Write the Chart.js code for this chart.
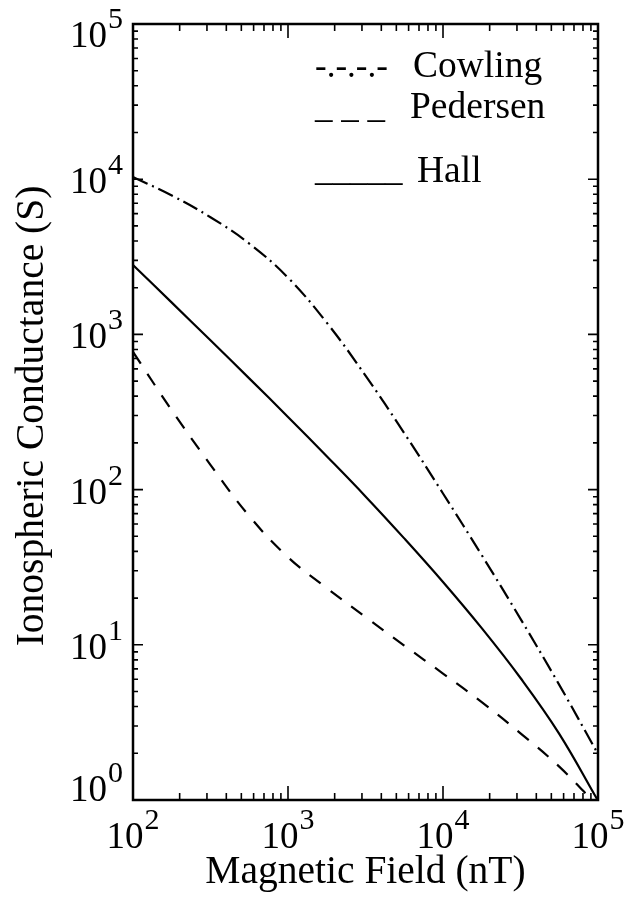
<!DOCTYPE html>
<html>
<head>
<meta charset="utf-8">
<script src="https://cdn.jsdelivr.net/npm/chart.js@4"></script>
<style>
  html, body { margin: 0; padding: 0; background: #fff; }
  canvas { display: block; }
</style>
</head>
<body>
<canvas id="chart" width="627" height="901"></canvas>
<script>
// magnetic field samples (nT) and conductances (S)
const fieldNT = [100, 178, 316, 562, 1000, 1778, 3162, 5623, 10000, 17783, 31623, 56234, 100000];
const cowling = [10330, 7850, 5690, 3850, 2320, 1190, 543, 231, 94.4, 37.8, 14.7, 5.52, 1.98];
const pedersen = [771, 324, 144.5, 67.6, 36.7, 23.2, 15.1, 9.89, 6.53, 4.27, 2.69, 1.64, 0.91];
const hall = [2800, 1603, 916, 521, 294, 164, 90.4, 48.5, 25.4, 12.8, 6.11, 2.67, 0.99];

const xMajor = [1e2, 1e3, 1e4, 1e5];
const xTickExp = ["2", "3", "4", "5"];
const yMajor = [1e0, 1e1, 1e2, 1e3, 1e4, 1e5];
const yTickExp = ["0", "1", "2", "3", "4", "5"];

const legendNames = ["Cowling", "Pedersen", "Hall"];
const legendMarks = ["-.-.-.-", "_ _ _", "_____"];

const SERIF = '"Liberation Serif", "DejaVu Serif", serif';

function minorTicks(majors) {
  const out = [];
  for (let i = 0; i < majors.length - 1; i++) {
    for (let m = 2; m <= 9; m++) out.push(majors[i] * m);
  }
  return out;
}

function pts(ys) {
  return fieldNT.map((b, i) => ({ x: b, y: ys[i] }));
}

function drawPower(ctx, exp, left, baseline) {
  ctx.font = "37px " + SERIF;
  ctx.fillText("10", left, baseline);
  const wb = ctx.measureText("10").width;
  ctx.font = "30px " + SERIF;
  ctx.fillText(exp, left + wb + 1, baseline - 19);
}

function powerWidth(ctx, exp) {
  ctx.font = "37px " + SERIF;
  const wb = ctx.measureText("10").width;
  ctx.font = "30px " + SERIF;
  return wb + 1 + ctx.measureText(exp).width;
}

const frame = {
  id: "frame",
  afterDatasetsDraw(chart) {
    const { ctx, chartArea: a, scales } = chart;
    const x = scales.x, y = scales.y;
    ctx.save();
    ctx.strokeStyle = "#000";
    ctx.fillStyle = "#000";

    // ticks pointing inward on all four sides
    ctx.lineWidth = 1.6;
    ctx.beginPath();
    xMajor.concat(minorTicks(xMajor)).forEach((v) => {
      const px = x.getPixelForValue(v);
      const len = xMajor.includes(v) ? 14 : 7;
      ctx.moveTo(px, a.bottom); ctx.lineTo(px, a.bottom - len);
      ctx.moveTo(px, a.top); ctx.lineTo(px, a.top + len);
    });
    yMajor.concat(minorTicks(yMajor)).forEach((v) => {
      const py = y.getPixelForValue(v);
      const len = yMajor.includes(v) ? 10 : 5;
      ctx.moveTo(a.left, py); ctx.lineTo(a.left + len, py);
      ctx.moveTo(a.right, py); ctx.lineTo(a.right - len, py);
    });
    ctx.stroke();

    ctx.lineWidth = 2.5;
    ctx.strokeRect(a.left, a.top, a.right - a.left, a.bottom - a.top);

    // tick labels
    ctx.textAlign = "left";
    ctx.textBaseline = "alphabetic";
    xMajor.forEach((v, i) => {
      const px = x.getPixelForValue(v);
      const w = powerWidth(ctx, xTickExp[i]);
      drawPower(ctx, xTickExp[i], px - w / 2, a.bottom + 48);
    });
    yMajor.forEach((v, i) => {
      const py = y.getPixelForValue(v);
      const w = powerWidth(ctx, yTickExp[i]);
      const base = Math.min(Math.max(py + 14, a.top + 23), a.bottom + 1);
      drawPower(ctx, yTickExp[i], a.left - 10 - w, base);
    });

    // axis titles
    ctx.font = "39.5px " + SERIF;
    ctx.textAlign = "center";
    ctx.fillText("Magnetic Field (nT)", (a.left + a.right) / 2, 883);
    ctx.save();
    ctx.translate(43, (a.top + a.bottom) / 2 + 4);
    ctx.rotate(-Math.PI / 2);
    ctx.fillText("Ionospheric Conductance (S)", 0, 0);
    ctx.restore();

    // legend, written as text like the original plot
    ctx.textAlign = "left";
    const nameX = [413, 410, 417];
    const baseY = [77, 118, 182];
    const markY = [77, 117, 180];
    legendNames.forEach((name, i) => {
      ctx.font = "35px " + SERIF;
      ctx.fillText(legendMarks[i], 315, markY[i]);
      ctx.font = "37.5px " + SERIF;
      ctx.fillText(name, nameX[i], baseY[i]);
    });
    ctx.restore();
  }
};

new Chart(document.getElementById("chart"), {
  type: "line",
  data: {
    datasets: [
      { label: "Cowling", data: pts(cowling), borderDash: [16, 5, 2, 5] },
      { label: "Pedersen", data: pts(pedersen), borderDash: [14, 12] },
      { label: "Hall", data: pts(hall), borderDash: [] }
    ].map((d) => Object.assign(d, {
      borderColor: "#000",
      borderWidth: 2.2,
      pointRadius: 0,
      fill: false,
      tension: 0.4
    }))
  },
  options: {
    responsive: false,
    animation: false,
    devicePixelRatio: 1,
    layout: { padding: { left: 133, right: 29, top: 24, bottom: 101 } },
    plugins: { legend: { display: false }, tooltip: { enabled: false } },
    scales: {
      x: { type: "logarithmic", min: 1e2, max: 1e5, display: false },
      y: { type: "logarithmic", min: 1e0, max: 1e5, display: false }
    }
  },
  plugins: [frame]
});
</script>
</body>
</html>
